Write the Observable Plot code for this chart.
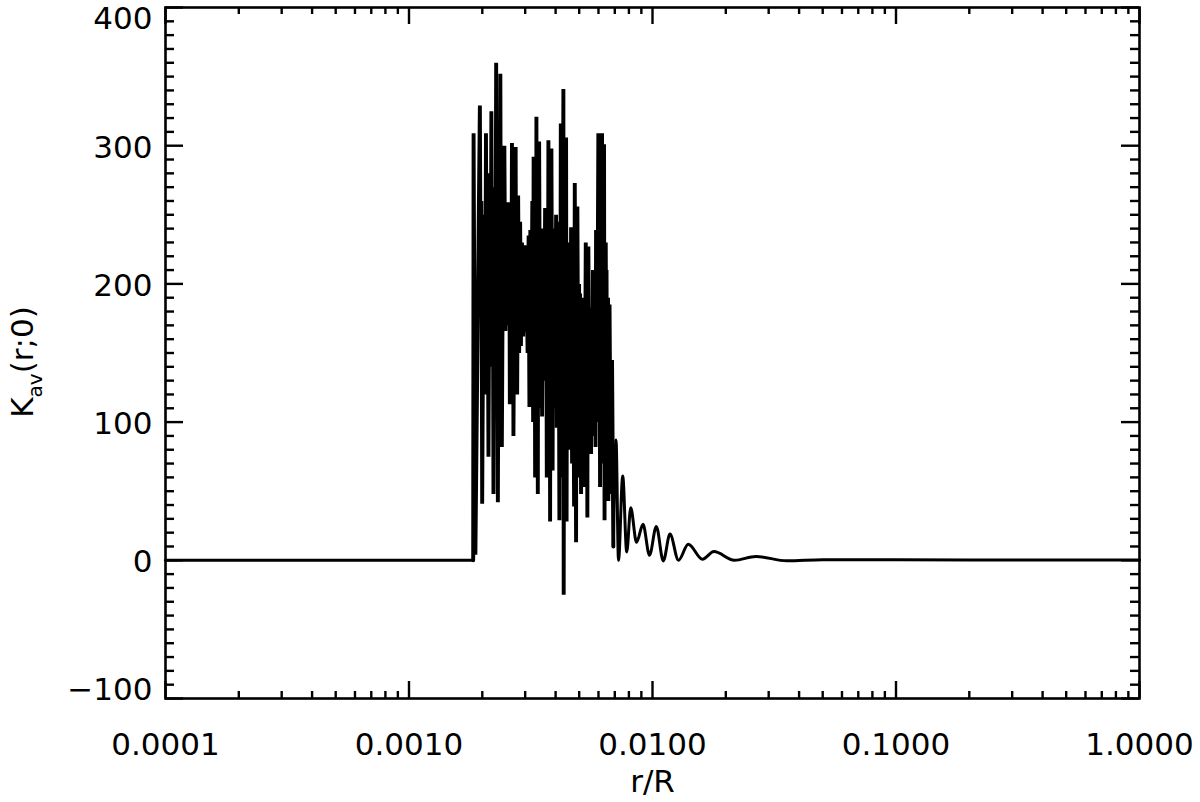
<!DOCTYPE html>
<html><head><meta charset="utf-8">
<script src="https://cdn.jsdelivr.net/npm/d3@7"></script>
<script src="https://cdn.jsdelivr.net/npm/@observablehq/plot@0.6"></script>
<style>body{margin:0;background:#fff;}</style>
</head><body><div id="chart"></div>
<script>
// r/R values (log axis) and K_av(r;0) values
// (the last block holds extra readings from the dense oscillation band)
const rValues = [
0.0001, 0.0018348, 0.0018417, 0.0018733, 0.0019547, 0.0019976, 0.0020261, 0.0020550, 0.0020706, 0.0021201,
0.0021443, 0.0021605, 0.0021790, 0.0022227, 0.0022480, 0.0022629, 0.0022801, 0.0023170, 0.0023456, 0.0023567,
0.0023724, 0.0024062, 0.0024359, 0.0024475, 0.0024637, 0.0024895, 0.0025060, 0.0025297, 0.0025610, 0.0025951,
0.0026148, 0.0026321, 0.0026471, 0.0026849, 0.0027155, 0.0027283, 0.0027413, 0.0027804, 0.0028068, 0.0028334,
0.0028603, 0.0028820, 0.0029094, 0.0029425, 0.0029845, 0.0030043, 0.0030271, 0.0030703, 0.0030994, 0.0031230,
0.0031496, 0.0031735, 0.0032097, 0.0032340, 0.0032493, 0.0032957, 0.0033364, 0.0033809, 0.0034226, 0.0034551,
0.0034879, 0.0035210, 0.0035544, 0.0035882, 0.0036222, 0.0036808, 0.0037369, 0.0037974, 0.0038443, 0.0038882,
0.0039436, 0.0039811, 0.0040188, 0.0040455, 0.0040685, 0.0041461, 0.0042013, 0.0042532, 0.0043058, 0.0043180,
0.0043755, 0.0044170, 0.0044379, 0.0045012, 0.0045440, 0.0046306, 0.0046746, 0.0047189, 0.0047637, 0.0047953,
0.0048546, 0.0049145, 0.0049706, 0.0050415, 0.0050893, 0.0051377, 0.0051620, 0.0052011, 0.0052604, 0.0053204,
0.0054014, 0.0054527, 0.0055148, 0.0055672, 0.0055935, 0.0056307, 0.0057272, 0.0057816, 0.0058365, 0.0058641,
0.0059197, 0.0059929, 0.0060899, 0.0061477, 0.0061768, 0.0062061, 0.0062649, 0.0063244, 0.0063544, 0.0064268,
0.0065062, 0.0065680, 0.0065866, 0.0066617, 0.0067376, 0.0068209, 0.0069052, 0.0070836, 0.0072500, 0.0075464,
0.0078370, 0.0081388, 0.0085972, 0.0091417, 0.0097206, 0.010366, 0.011074, 0.011798, 0.012784, 0.014024,
0.016037, 0.017878, 0.021698, 0.026583, 0.035629, 0.05, 0.2, 1.0,
0.0019695, 0.0019826, 0.0020844, 0.0021002, 0.0021934, 0.0022080, 0.0022930, 0.0023039, 0.0023836, 0.0023949,
0.0025731, 0.0025829, 0.0026596, 0.0026722, 0.0027542, 0.0027673, 0.0032647, 0.0032802, 0.0033113, 0.0033238,
0.0033522, 0.0033649, 0.0033936, 0.0034065, 0.0036428, 0.0036600, 0.0036983, 0.0037158, 0.0037581, 0.0037759,
0.0038118, 0.0038262, 0.0039065, 0.0039250, 0.0040916, 0.0041149, 0.0041657, 0.0041815, 0.0042172, 0.0042332,
0.0043343, 0.0043548, 0.0044589, 0.0044800, 0.0045698, 0.0046001, 0.0048730, 0.0048960, 0.0049941, 0.0050177,
0.0053456, 0.0053709, 0.0054219, 0.0054373, 0.0056627, 0.0056949, 0.0060269, 0.0060555, 0.0063784, 0.0064025,
0.0064511, 0.0064755
];
const kValues = [
0, 0, 309, 4, 329, 41, 250, 120, 309, 75,
280, 140, 325, 48, 270, 150, 360, 42, 290, 180,
352, 82, 260, 170, 300, 166, 250, 175, 259, 113,
250, 160, 302, 90, 240, 165, 299, 120, 264, 150,
245, 155, 230, 162, 228, 165, 222, 150, 235, 111,
239, 128, 260, 100, 292, 60, 321, 48, 303, 120,
230, 104, 240, 130, 255, 60, 304, 28, 298, 65,
240, 110, 250, 96, 245, 29, 316, 60, 341, -25,
200, 306, 28, 230, 80, 241, 70, 200, 39, 273,
13, 256, 60, 193, 48, 180, 70, 190, 53, 230,
31, 227, 90, 170, 77, 183, 120, 200, 82, 239,
100, 309, 53, 250, 90, 309, 70, 301, 29, 230,
60, 190, 43, 185, 48, 145, 10, 87, 0, 61,
6, 38, 13, 26, 3.6, 24.5, -0.5, 19, 0, 11.6,
0.8, 6.3, 0, 2.8, -0.4, 0.4, 0.3, 0.3,
180, 260, 170, 250, 170, 250, 180, 260, 190, 260,
170, 240, 170, 240, 170, 240, 150, 250, 220, 120,
140, 240, 230, 110, 130, 240, 230, 110, 140, 250,
220, 120, 230, 120, 120, 240, 230, 110, 140, 250,
180, 90, 220, 100, 220, 110, 210, 100, 200, 100,
110, 220, 200, 100, 90, 210, 140, 240, 200, 100,
150, 210
];
const xTickValues = [0.0001, 0.001, 0.01, 0.1, 1];
const xTickLabels = ["0.0001", "0.0010", "0.0100", "0.1000", "1.0000"];
const yTickValues = [-100, 0, 100, 200, 300, 400];
const yTickLabels = ["\u2212100", "0", "100", "200", "300", "400"];
const xTitle = "r/R";

const data = d3.sort(rValues.map((r, i) => ({r, k: kValues[i]})), d => d.r);
const denseStart = 0.0018348, denseEnd = 0.0069052;
const flat = data.filter(d => d.r <= denseStart);
const dense = data.filter(d => d.r >= denseStart && d.r <= denseEnd);
const tail = data.filter(d => d.r >= denseEnd);
const W = 1200, H = 802, mt = 7, mb = 104, ml = 165, mr = 61;
const plotH = H - mt - mb, plotW = W - ml - mr;
const xMinor = [];
for (let e = -4; e < 0; e++) for (let m = 2; m <= 9; m++) xMinor.push(m * Math.pow(10, e));
const yMinor = d3.range(-100, 401, 10).filter(v => v % 100 !== 0);
const FS = 31;
const yLab = (vals, dy) => Plot.text(vals, {y: d => d, text: d => yTickLabels[yTickValues.indexOf(d)], frameAnchor: "left", textAnchor: "end", dx: -13, dy, fontSize: FS, lineAnchor: "middle"});

const chart = Plot.plot({
  width: W, height: H,
  marginTop: mt, marginBottom: mb, marginLeft: ml, marginRight: mr,
  x: {type: "log", domain: [1e-4, 1], axis: null},
  y: {domain: [-100, 400], axis: null},
  style: {fontFamily: "DejaVu Sans", background: "white", color: "black"},
  marks: [
    Plot.line(flat, {x: "r", y: "k", stroke: "black", strokeWidth: 3, curve: "linear"}),
    Plot.line(dense, {x: "r", y: "k", stroke: "black", strokeWidth: 3.9, strokeLinejoin: "miter", strokeMiterlimit: 1, curve: "linear"}),
    Plot.line(tail, {x: "r", y: "k", stroke: "black", strokeWidth: 3, curve: "monotone-x"}),
    Plot.frame({stroke: "black", strokeWidth: 2.6}),
    Plot.tickX(xTickValues, {x: d => d, insetTop: plotH - 17, strokeWidth: 2.4}),
    Plot.tickX(xTickValues, {x: d => d, insetBottom: plotH - 17, strokeWidth: 2.4}),
    Plot.tickX(xMinor, {x: d => d, insetTop: plotH - 7, strokeWidth: 2.4}),
    Plot.tickX(xMinor, {x: d => d, insetBottom: plotH - 7, strokeWidth: 2.4}),
    Plot.tickY(yTickValues, {y: d => d, insetRight: plotW - 18, strokeWidth: 2.4}),
    Plot.tickY(yTickValues, {y: d => d, insetLeft: plotW - 18, strokeWidth: 2.4}),
    Plot.tickY(yMinor, {y: d => d, insetRight: plotW - 9, strokeWidth: 2.4}),
    Plot.tickY(yMinor, {y: d => d, insetLeft: plotW - 9, strokeWidth: 2.4}),
    Plot.text(xTickValues, {x: d => d, text: (d, i) => xTickLabels[i], frameAnchor: "bottom", dy: 47, fontSize: FS, lineAnchor: "middle"}),
    yLab([-100], -8),
    yLab([0, 100, 200, 300], 2),
    yLab([400], 12),
    Plot.text([xTitle], {text: d => d, frameAnchor: "bottom", dy: 84, fontSize: FS, lineAnchor: "middle"})
  ]
});
document.getElementById("chart").appendChild(chart);

// y-axis title with subscript
const svg = d3.select(chart);
const t = svg.append("text")
  .attr("transform", "translate(33,362) rotate(-90)")
  .attr("text-anchor", "middle")
  .attr("font-family", "DejaVu Sans")
  .attr("font-size", FS)
  .attr("fill", "black");
t.append("tspan").text("K");
t.append("tspan").attr("font-size", 20).attr("dy", 9).text("av");
t.append("tspan").attr("dy", -9).text("(r;0)");
</script>
</body></html>
